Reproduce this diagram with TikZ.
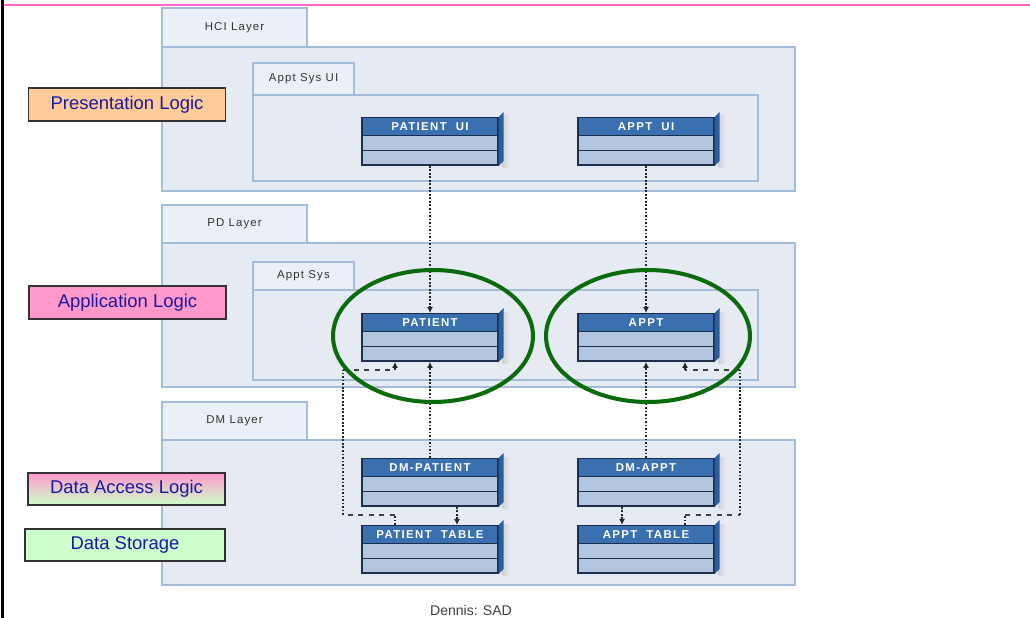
\documentclass[tikz,border=0pt]{standalone}
\usepackage{fontspec}
\setmainfont{Liberation Sans}
\usetikzlibrary{calc,positioning,shapes,arrows.meta}

\definecolor{lfill}{HTML}{E5EAF3}
\definecolor{lline}{HTML}{A3BCDA}
\definecolor{tfill}{HTML}{EBEFF6}
\definecolor{chead}{HTML}{3A6FB0}
\definecolor{crow}{HTML}{B3C6DF}
\definecolor{cline}{HTML}{1E2D4A}
\definecolor{cside}{HTML}{2B5E9E}
\definecolor{ringgreen}{HTML}{0B6A0B}
\definecolor{logictext}{HTML}{1A1A9C}
\definecolor{presfill}{HTML}{FFCC99}
\definecolor{appfill}{HTML}{FF99CC}
\definecolor{storefill}{HTML}{CCFFCC}
\definecolor{pinkrule}{HTML}{FF66CC}

\newcommand{\layerfont}{\fontsize{6.5}{8}\selectfont\addfontfeature{LetterSpace=10}}
\newcommand{\clsfont}{\fontsize{6.5}{7}\selectfont\bfseries\addfontfeature{LetterSpace=12}}
\newcommand{\logicfont}{\fontsize{10.5}{12}\selectfont}
\newcommand{\headstrut}{\rule[-2.6pt]{0pt}{9.4pt}}
\newcommand{\rowstrut}{\rule{0pt}{7.6pt}}

\tikzset{
  layer/.style={draw=lline, fill=lfill, line width=0.8pt},
  tab/.style={draw=lline, fill=tfill, line width=0.8pt, inner sep=0pt, font=\layerfont, text=black!80},
  cls/.style={rectangle split, rectangle split parts=3, rectangle split part fill={chead,crow,crow},
    draw=cline, line width=0.8pt, inner xsep=0pt, inner ysep=0pt, text width=2.72cm, align=center,
    anchor=north, font=\clsfont, text=white},
  dep/.style={densely dotted, line width=1pt, draw=black!85, -{Latex[length=3.5pt,width=3.5pt]}},
  dotseg/.style={densely dotted, line width=1pt, draw=black!85},
  dashseg/.style={dashed, line width=0.7pt, draw=black!75},
  logic/.style={draw=black!80, line width=0.6pt, minimum width=3.94cm, minimum height=0.66cm,
    inner sep=0pt, font=\logicfont, text=logictext},
  ring/.style={draw=ringgreen, line width=2.3pt}
}

\begin{document}
\begin{tikzpicture}[x=0.02cm,y=-0.02cm]
\useasboundingbox (0,0) rectangle (1030,618);
\draw[pinkrule, line width=1.1pt] (3,5) -- (1030,5);
\draw[line width=1.7pt] (2.5,0) -- (2.5,618);
% layers
\draw[layer] (162,47) rectangle (795,191);
\draw[layer] (162,243) rectangle (795,387);
\draw[layer] (162,440) rectangle (795,585);
\node[tab, minimum width=2.9cm, minimum height=0.78cm] (hcitab) at (234.5,27.5) {HCI Layer};
\node[tab, minimum width=2.9cm, minimum height=0.76cm] (pdtab) at (234.5,224) {PD Layer};
\node[tab, minimum width=2.9cm, minimum height=0.76cm] (dmtab) at (234.5,421) {DM Layer};
\draw[layer] (253,95) rectangle (758,181);
\draw[layer] (253,290) rectangle (758,380);
\node[tab, minimum width=2.02cm, minimum height=0.64cm] (uitab) at (303.5,79) {Appt Sys UI};
\node[tab, minimum width=2.02cm, minimum height=0.56cm] (systab) at (303.5,276) {Appt Sys};
% classes
\node[cls] (patientui) at (430,117) {\headstrut PATIENT\hspace{3pt} UI\nodepart{two}\rowstrut\nodepart{three}\rowstrut};
\node[cls] (apptui) at (646,117) {\headstrut APPT\hspace{3pt} UI\nodepart{two}\rowstrut\nodepart{three}\rowstrut};
\node[cls] (patient) at (430,313) {\headstrut PATIENT\nodepart{two}\rowstrut\nodepart{three}\rowstrut};
\node[cls] (appt) at (646,313) {\headstrut APPT\nodepart{two}\rowstrut\nodepart{three}\rowstrut};
\node[cls] (dmpatient) at (430,458) {\headstrut DM-PATIENT\nodepart{two}\rowstrut\nodepart{three}\rowstrut};
\node[cls] (dmappt) at (646,458) {\headstrut DM-APPT\nodepart{two}\rowstrut\nodepart{three}\rowstrut};
\node[cls] (ptable) at (430,525) {\headstrut PATIENT\hspace{3pt} TABLE\nodepart{two}\rowstrut\nodepart{three}\rowstrut};
\node[cls] (atable) at (646,525) {\headstrut APPT\hspace{3pt} TABLE\nodepart{two}\rowstrut\nodepart{three}\rowstrut};
\foreach \c in {patientui,apptui,patient,appt,dmpatient,dmappt,ptable,atable}{
  \shade[left color=black!18, right color=lfill] ($(\c.north east)+(4,-1)$) rectangle ($(\c.south east)+(11,2)$);
  \fill[cside] (\c.north east) -- ++(5,-5) -- ($(\c.south east)+(5,-5)$) -- (\c.south east) -- cycle;
}
% logic labels
\node[logic, fill=presfill] (pres) at (127,104.5) {Presentation Logic};
\node[logic, fill=appfill] (app) at (127.5,302.5) {Application Logic};
\node[logic, top color=appfill, bottom color=storefill, minimum height=0.64cm] (access) at (126.5,489) {Data Access Logic};
\node[logic, fill=storefill, minimum width=4cm, minimum height=0.64cm] (store) at (125,545) {Data Storage};
% dependencies
\draw[dep] (patientui.south) -- (patient.north);
\draw[dep] (apptui.south) -- (appt.north);
\draw[dep] (dmpatient.north) -- (patient.south);
\draw[dep] (dmappt.north) -- (appt.south);
\draw[dep] ($(dmpatient.south)+(27,0)$) -- ($(ptable.north)+(27,0)$);
\draw[dep] ($(dmappt.south)+(-24,0)$) -- ($(atable.north)+(-24,0)$);
\coordinate (pl1) at (395,515);
\coordinate (pl2) at (343,515);
\coordinate (pl3) at (343,370);
\coordinate (pl4) at (395,370);
\draw[dotseg] (ptable.north -| pl1) -- (pl1);
\draw[dashseg] (pl1) -- (pl2);
\draw[dotseg] (pl2) -- (pl3);
\draw[dashseg] (pl3) -- (pl4);
\draw[dep] (pl4) -- (patient.south -| pl4);
\coordinate (al1) at (685,515);
\coordinate (al2) at (740,515);
\coordinate (al3) at (740,370);
\coordinate (al4) at (685,370);
\draw[dotseg] (atable.north -| al1) -- (al1);
\draw[dashseg] (al1) -- (al2);
\draw[dotseg] (al2) -- (al3);
\draw[dashseg] (al3) -- (al4);
\draw[dep] (al4) -- (appt.south -| al4);
% rings
\draw[ring] (433,336) ellipse [x radius=2cm, y radius=1.32cm];
\draw[ring] (648,336) ellipse [x radius=2.04cm, y radius=1.32cm];
\node[font=\fontsize{8}{9}\selectfont, text=black!75, anchor=south, inner sep=0.5pt] (credit) at (471,617) {Dennis: SAD};
\end{tikzpicture}
\end{document}
